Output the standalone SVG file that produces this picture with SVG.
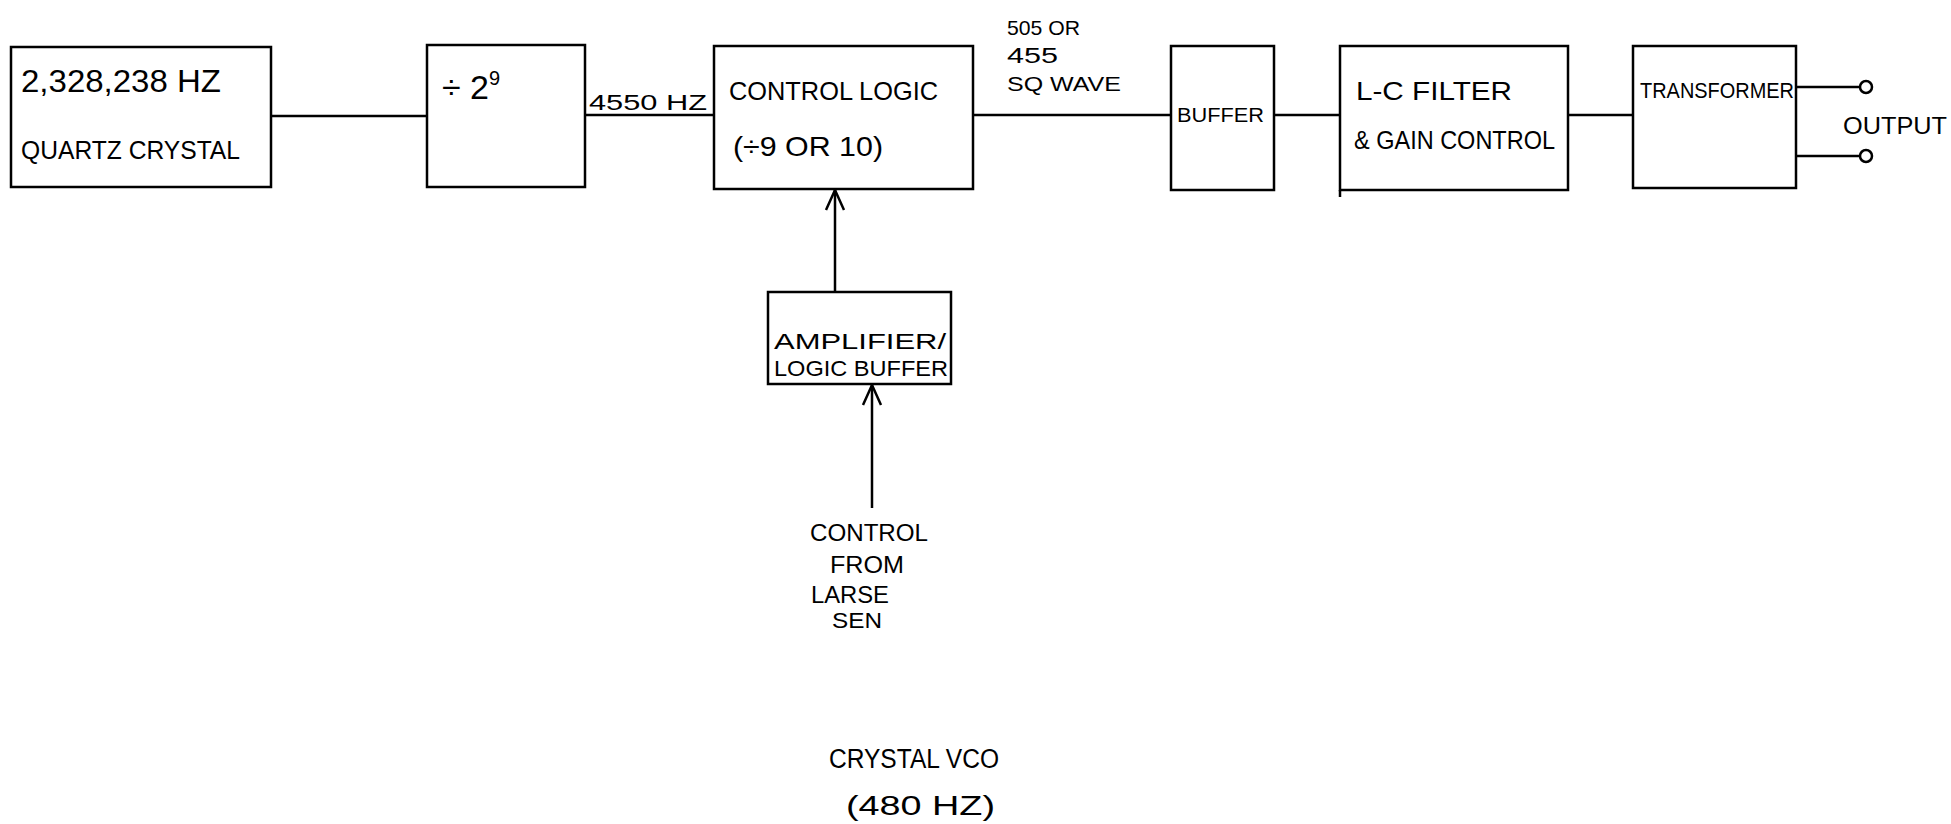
<svg xmlns="http://www.w3.org/2000/svg" width="1951" height="824" viewBox="0 0 1951 824">
<style>
.box{fill:#fff;stroke:#000;stroke-width:2.5}
.ln{fill:none;stroke:#000;stroke-width:2.5}
.t{font-family:"Liberation Sans",Arial,sans-serif;fill:#000}
.term{fill:#fff;stroke:#000;stroke-width:2.5}
</style>
<rect width="1951" height="824" fill="#fff"/>
<g id="connectors">
<line class="ln" x1="271" y1="116" x2="427" y2="116"/>
<line class="ln" x1="585" y1="115" x2="714" y2="115"/>
<line class="ln" x1="973" y1="115" x2="1171" y2="115"/>
<line class="ln" x1="1274" y1="115" x2="1340" y2="115"/>
<line class="ln" x1="1568" y1="115" x2="1633" y2="115"/>
<line class="ln" x1="835" y1="292" x2="835" y2="190"/>
<polyline class="ln" points="826,210 835,190 844,210"/>
<line class="ln" x1="872" y1="508" x2="872" y2="385"/>
<polyline class="ln" points="863,405 872,385 881,405"/>
<line class="ln" x1="1796" y1="87" x2="1860" y2="87"/>
<line class="ln" x1="1796" y1="156" x2="1860" y2="156"/>
<text class="t" x="589" y="110" font-size="22" textLength="118" lengthAdjust="spacingAndGlyphs">4550 HZ</text>
<text class="t" x="1007" y="35" font-size="21" textLength="73" lengthAdjust="spacingAndGlyphs">505 OR</text>
<text class="t" x="1007" y="63" font-size="22" textLength="51" lengthAdjust="spacingAndGlyphs">455</text>
<text class="t" x="1007" y="91" font-size="20" textLength="114" lengthAdjust="spacingAndGlyphs">SQ WAVE</text>
</g>
<g id="quartz">
<rect class="box" x="11" y="47" width="260" height="140"/>
<text class="t" x="21" y="92" font-size="31" textLength="200" lengthAdjust="spacingAndGlyphs">2,328,238 HZ</text>
<text class="t" x="21" y="159" font-size="25" textLength="219" lengthAdjust="spacingAndGlyphs">QUARTZ CRYSTAL</text>
</g>
<g id="divider">
<rect class="box" x="427" y="45" width="158" height="142"/>
<text class="t" x="442" y="99" font-size="34">÷ 2<tspan font-size="20" dy="-14">9</tspan></text>
</g>
<g id="control-logic">
<rect class="box" x="714" y="46" width="259" height="143"/>
<text class="t" x="729" y="100" font-size="25" textLength="209" lengthAdjust="spacingAndGlyphs">CONTROL LOGIC</text>
<text class="t" x="733" y="156" font-size="28" textLength="150" lengthAdjust="spacingAndGlyphs">(÷9 OR 10)</text>
</g>
<g id="buffer">
<rect class="box" x="1171" y="46" width="103" height="144"/>
<text class="t" x="1177" y="122" font-size="20" textLength="87" lengthAdjust="spacingAndGlyphs">BUFFER</text>
</g>
<g id="lc-filter">
<rect class="box" x="1340" y="46" width="228" height="144"/>
<line class="ln" x1="1340" y1="190" x2="1340" y2="197"/>
<text class="t" x="1356" y="100" font-size="25" textLength="156" lengthAdjust="spacingAndGlyphs">L-C FILTER</text>
<text class="t" x="1354" y="149" font-size="25" textLength="201" lengthAdjust="spacingAndGlyphs">&amp; GAIN CONTROL</text>
</g>
<g id="transformer">
<rect class="box" x="1633" y="46" width="163" height="142"/>
<text class="t" x="1640" y="98" font-size="22" textLength="154" lengthAdjust="spacingAndGlyphs">TRANSFORMER</text>
</g>
<g id="output">
<circle class="term" cx="1866" cy="87" r="6"/>
<circle class="term" cx="1866" cy="156" r="6"/>
<text class="t" x="1843" y="134" font-size="24" textLength="104" lengthAdjust="spacingAndGlyphs">OUTPUT</text>
</g>
<g id="amplifier">
<rect class="box" x="768" y="292" width="183" height="92"/>
<text class="t" x="774" y="349" font-size="22" textLength="172" lengthAdjust="spacingAndGlyphs">AMPLIFIER/</text>
<text class="t" x="774" y="376" font-size="22" textLength="174" lengthAdjust="spacingAndGlyphs">LOGIC BUFFER</text>
</g>
<g id="control-source">
<text class="t" x="810" y="541" font-size="23" textLength="118" lengthAdjust="spacingAndGlyphs">CONTROL</text>
<text class="t" x="830" y="573" font-size="23" textLength="74" lengthAdjust="spacingAndGlyphs">FROM</text>
<text class="t" x="811" y="603" font-size="23" textLength="78" lengthAdjust="spacingAndGlyphs">LARSE</text>
<text class="t" x="832" y="628" font-size="22" textLength="50" lengthAdjust="spacingAndGlyphs">SEN</text>
</g>
<g id="caption">
<text class="t" x="829" y="768" font-size="27" textLength="170" lengthAdjust="spacingAndGlyphs">CRYSTAL VCO</text>
<text class="t" x="846" y="815" font-size="28" textLength="149" lengthAdjust="spacingAndGlyphs">(480 HZ)</text>
</g>
</svg>
